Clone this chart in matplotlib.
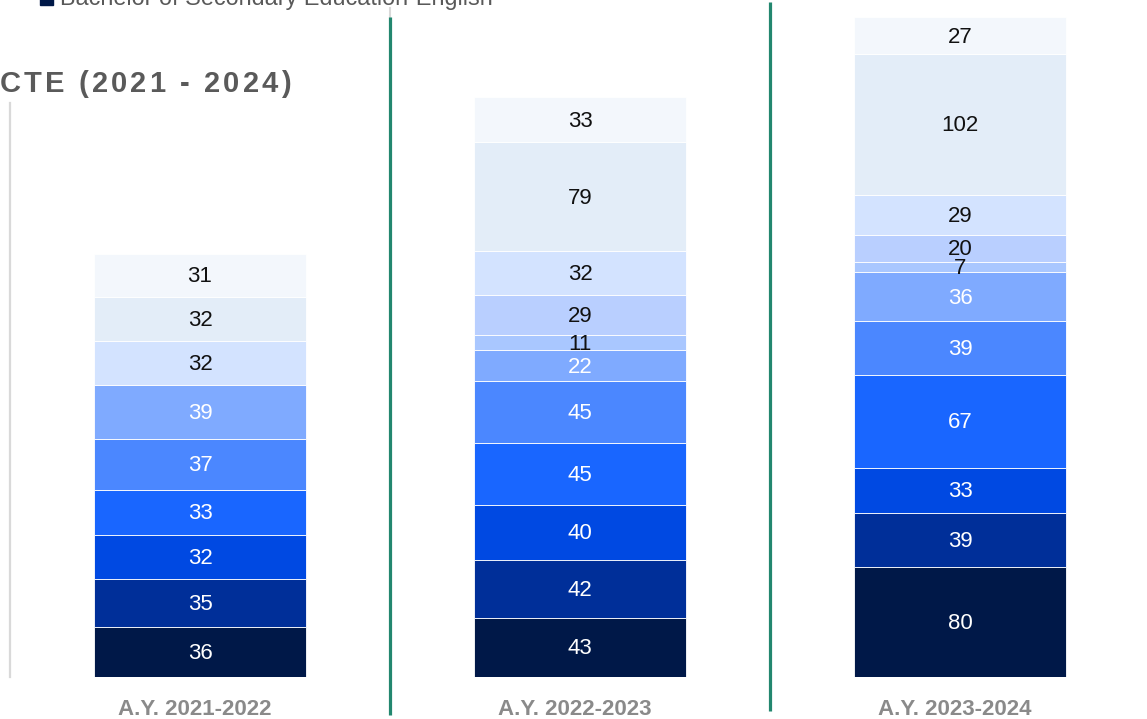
import matplotlib
matplotlib.use("Agg")
import matplotlib.pyplot as plt
import matplotlib.transforms as mtransforms
from matplotlib.patches import Rectangle
from matplotlib.textpath import text_to_path
from matplotlib.font_manager import FontProperties

plt.rcParams['font.family'] = ['Liberation Sans', 'DejaVu Sans']

# Academic years and enrolment per program, stacked bottom to top
years = ["A.Y. 2021-2022", "A.Y. 2022-2023", "A.Y. 2023-2024"]
ay_2021_2022 = [36, 35, 32, 33, 37, 39, 0, 0, 32, 32, 31]
ay_2022_2023 = [43, 42, 40, 45, 45, 22, 11, 29, 32, 79, 33]
ay_2023_2024 = [80, 39, 33, 67, 39, 36, 7, 20, 29, 102, 27]
legend_label = "Bachelor of Secondary Education-English"
title_text = "CTE (2021 - 2024)"

colors = ["#001848", "#002f99", "#0049e2", "#1966ff", "#4b87ff", "#7faaff",
          "#a9c7ff", "#b9cfff", "#d3e3ff", "#e3edf8", "#f3f7fc"]
text_colors = ["white"] * 6 + ["#111111"] * 5

W, H = 1147, 719
fig = plt.figure(figsize=(W / 100, H / 100), dpi=100)
px_per_unit = 1.378
ax = fig.add_axes([10 / W, 42 / H, 1140 / W, 677 / H])
ax.set_xlim(-0.5, 2.5)
ax.set_ylim(0, 677 / px_per_unit)

# value labels sit a touch below the geometric centre of each segment
label_shift = mtransforms.ScaledTranslation(0, -1.5 / 100, fig.dpi_scale_trans)

table = [ay_2021_2022, ay_2022_2023, ay_2023_2024]
bar_w = 0.558
for i, vals in enumerate(table):
    bottom = 0
    for s, v in enumerate(vals):
        if v > 0:
            ax.bar(i, v, bottom=bottom, width=bar_w, color=colors[s],
                   edgecolor="white", linewidth=0.6, zorder=2)
            ax.text(i, bottom + v / 2, str(v), ha="center", va="center",
                    fontsize=16, color=text_colors[s], zorder=3,
                    transform=ax.transData + label_shift)
        bottom += v

for side in ["top", "right", "bottom"]:
    ax.spines[side].set_visible(False)
ax.spines["left"].set_color("#d9d9d9")
ax.spines["left"].set_linewidth(1.6)
ax.spines["left"].set_bounds(0, (677 - 103) / px_per_unit)
ax.set_yticks([])
ax.set_xticks(range(len(years)))
ax.set_xticklabels(years, fontsize=16, fontweight="bold", color="#8a8a8a")
ax.tick_params(axis="x", length=0, pad=16)
shift = mtransforms.ScaledTranslation(-5 / 100, 0, fig.dpi_scale_trans)
for lbl in ax.get_xticklabels():
    lbl.set_transform(lbl.get_transform() + shift)


def py(p):
    return (677 - p) / px_per_unit


# separators between academic years
green = "#23876f"
ax.plot([0.5, 0.5], [py(8), py(17)], color="#d9d9d9", lw=1.5, clip_on=False)
ax.plot([0.5, 0.5], [py(17), py(715)], color=green, lw=2.3, clip_on=False,
        solid_capstyle="butt")
ax.plot([1.5, 1.5], [py(2), py(711)], color=green, lw=2.3, clip_on=False,
        solid_capstyle="butt")

# title with letter spacing, right edge at x=291 px
prop = FontProperties(family="Liberation Sans", weight="bold", size=21)
spacing = 3.1
adv = []
for ch in title_text:
    w, _, _ = text_to_path.get_text_width_height_descent(ch, prop, ismath=False)
    adv.append(w * 100 / 72)
total = sum(adv) + spacing * (len(title_text) - 1)
x = 291 - total
for ch, a in zip(title_text, adv):
    fig.text(x / W, 1 - 92 / H, ch, fontproperties=prop, color="#5a5a5a",
             ha="left", va="baseline")
    x += a + spacing

# legend entry
fig.add_artist(Rectangle((40 / W, 1 - 5 / H), 13 / W, 13 / H,
                         transform=fig.transFigure, color=colors[0]))
fig.text(60 / W, 1 - 5 / H, legend_label, fontsize=16.8, color="#595959",
         ha="left", va="baseline")

fig.savefig("out.png", dpi=100)
